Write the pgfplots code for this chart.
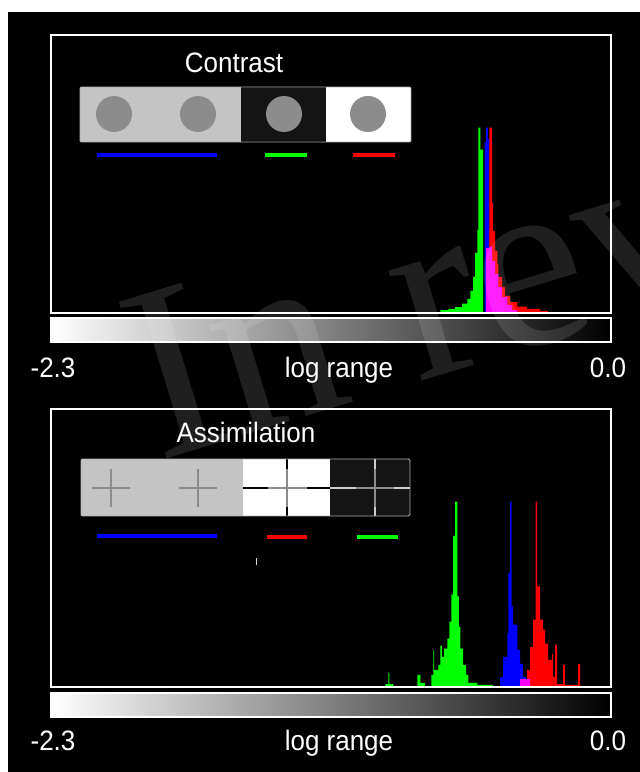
\documentclass[border=0pt]{standalone}
\usepackage{pgfplots}
\pgfplotsset{compat=1.18}
\usepackage{fontspec}
\setmainfont{Liberation Sans}
\newfontfamily\wmfont{Liberation Serif}
\definecolor{hgreen}{RGB}{0,255,0}
\definecolor{hblue}{RGB}{0,0,255}
\definecolor{hred}{RGB}{255,0,0}
\definecolor{hmag}{RGB}{255,0,255}
\definecolor{stimgray}{RGB}{196,196,196}
\definecolor{discgray}{RGB}{140,140,140}
\definecolor{stimblack}{RGB}{20,20,20}
\definecolor{lightline}{RGB}{205,205,205}

\pgfplotsset{
  histax/.style={
    anchor=south west, scale only axis, width=560pt, height=278pt,
    xmin=-2.3, xmax=0, ymin=0, ymax=1.5,
    ticks=none, axis on top,
    axis line style={white, line width=2pt},
  },
  hist/.style={const plot mark left, draw=none, fill=#1},
}

\begin{document}
\begin{tikzpicture}
\useasboundingbox (0pt,0pt) rectangle (640pt,-772pt);
\begin{scope}[x=1pt,y=-1pt]
\fill[white] (0,0) rectangle (640,772);
\fill[black] (8,12) rectangle (640,772);
\end{scope}

% ---------------- Contrast panel ----------------
\begin{axis}[histax, at={(51pt,-313pt)}]
\addplot[hist=hblue] coordinates {(-0.519,0.92) (-0.5125,1.0) (-0.506,0.94) (-0.500,0.357) (-0.488,0.28) (-0.476,0.21) (-0.463,0.14) (-0.447,0.086) (-0.426,0.043) (-0.406,0.016) (-0.385,0)} \closedcycle;
\addplot[hist=hred] coordinates {(-0.5125,0.35) (-0.500,1.0) (-0.488,0.595) (-0.484,0.443) (-0.476,0.335) (-0.467,0.265) (-0.463,0.195) (-0.447,0.141) (-0.435,0.092) (-0.414,0.059) (-0.385,0.035) (-0.344,0.022) (-0.291,0.011) (-0.258,0)} \closedcycle;
\addplot[hist=hmag] coordinates {(-0.5125,0.35) (-0.500,0.357) (-0.488,0.28) (-0.476,0.21) (-0.463,0.14) (-0.447,0.086) (-0.426,0.043) (-0.406,0.016) (-0.385,0)} \closedcycle;
\addplot[hist=hgreen] coordinates {(-0.713,0.005) (-0.701,0.015) (-0.668,0.022) (-0.640,0.032) (-0.611,0.051) (-0.590,0.076) (-0.578,0.119) (-0.566,0.195) (-0.558,0.324) (-0.549,0.449) (-0.545,1.0) (-0.537,0.881) (-0.525,0)} \closedcycle;
\end{axis}

% ---------------- Assimilation panel ----------------
\begin{axis}[histax, at={(51pt,-687pt)}]
\addplot[hist=hgreen] coordinates {(-0.927,0.016) (-0.914,0.076) (-0.910,0.016) (-0.894,0) (-0.795,0.065) (-0.783,0.022) (-0.763,0) (-0.738,0.065) (-0.730,0.196) (-0.726,0.092) (-0.709,0.12) (-0.701,0.223) (-0.695,0.163) (-0.685,0.207) (-0.672,0.261) (-0.664,0.353) (-0.656,0.5) (-0.648,0.815) (-0.640,1.0) (-0.631,0.489) (-0.625,0.326) (-0.619,0.207) (-0.607,0.12) (-0.595,0.065) (-0.586,0.022) (-0.549,0.011) (-0.484,0)} \closedcycle;
\addplot[hist=hblue] coordinates {(-0.455,0.054) (-0.443,0.163) (-0.426,0.288) (-0.422,0.614) (-0.414,1.0) (-0.408,0.435) (-0.402,0.337) (-0.385,0.201) (-0.373,0.125) (-0.361,0.054) (-0.349,0)} \closedcycle;
\addplot[hist=hred] coordinates {(-0.373,0.038) (-0.344,0.092) (-0.332,0.217) (-0.320,0.364) (-0.310,1.0) (-0.303,0.543) (-0.291,0.364) (-0.279,0.31) (-0.271,0.234) (-0.258,0.147) (-0.242,0.179) (-0.238,0.054) (-0.230,0.228) (-0.221,0.016) (-0.197,0.12) (-0.189,0.011) (-0.135,0.125) (-0.127,0)} \closedcycle;
\addplot[hist=hmag] coordinates {(-0.373,0.043) (-0.332,0)} \closedcycle;
\end{axis}

\begin{scope}[x=1pt,y=-1pt]
% colour bars
\shade[left color=white, right color=black] (51,318) rectangle (611,342);
\draw[white, line width=1.5pt] (51,318) rectangle (611,342);
\shade[left color=white, right color=black] (51,693) rectangle (611,717);
\draw[white, line width=1.5pt] (51,693) rectangle (611,717);

% texts
\node[white, font=\fontsize{26}{30}\selectfont, inner sep=0, yscale=1.08] at (234,63) {Contrast};
\node[white, font=\fontsize{26}{30}\selectfont, inner sep=0, yscale=1.08] at (246,432) {Assimilation};
\foreach \yy in {377,750} {
  \node[white, font=\fontsize{26}{30}\selectfont, inner sep=0, anchor=base, yscale=1.08] at (53,\yy) {-2.3};
  \node[white, font=\fontsize{26}{30}\selectfont, inner sep=0, anchor=base, yscale=1.08] at (339,\yy) {log range};
  \node[white, font=\fontsize{26}{30}\selectfont, inner sep=0, anchor=base, yscale=1.08] at (608,\yy) {0.0};
}

% contrast stimulus
\fill[stimgray] (80,87) rectangle (241,142);
\fill[stimblack] (241,88) rectangle (326,141);
\fill[white] (326,87) rectangle (411,142);
\draw[gray!60, line width=0.8pt, rounded corners=1.5pt] (80,87) rectangle (411,142);
\foreach \cx in {114,198,284,368} { \fill[discgray] (\cx,114) circle (18pt); }
\draw[hblue, line width=4pt] (97,155) -- (217,155);
\draw[hgreen, line width=4pt] (265,155) -- (307,155);
\draw[hred, line width=4pt] (353,155) -- (395,155);

% assimilation stimulus
\fill[stimgray] (81,459) rectangle (243,516);
\fill[white] (243,459) rectangle (330,516);
\fill[stimblack] (330,459) rectangle (410,516);
\draw[discgray, line width=1.4pt] (92,488) -- (130,488) (111,469) -- (111,507);
\draw[discgray, line width=1.4pt] (179,488) -- (217,488) (198,469) -- (198,507);
\draw[black, line width=1.4pt] (243,488) -- (268,488) (307,488) -- (330,488) (287,459) -- (287,469) (287,507) -- (287,516);
\draw[discgray, line width=1.4pt] (268,488) -- (307,488) (287,469) -- (287,507);
\draw[lightline, line width=1.4pt] (330,488) -- (410,488) (375,459) -- (375,516);
\draw[discgray, line width=1.4pt] (356,488) -- (394,488) (375,469) -- (375,507);
\draw[gray!60, line width=0.8pt, rounded corners=1.5pt] (81,459) rectangle (410,516);
\draw[hblue, line width=4pt] (97,536) -- (217,536);
\draw[hred, line width=4pt] (267,537) -- (307,537);
\draw[hgreen, line width=4pt] (357,537) -- (398,537);
\draw[white!85!black, line width=1pt] (256,558) -- (256,565);

% watermark
\begin{scope}
\clip (8,12) rectangle (640,772);
\node[rotate=17, anchor=base west, inner sep=0, text=white, text opacity=0.12,
      font=\wmfont\fontsize{250}{250}\selectfont] at (158,462) {In review};
\end{scope}
\end{scope}
\end{tikzpicture}
\end{document}
